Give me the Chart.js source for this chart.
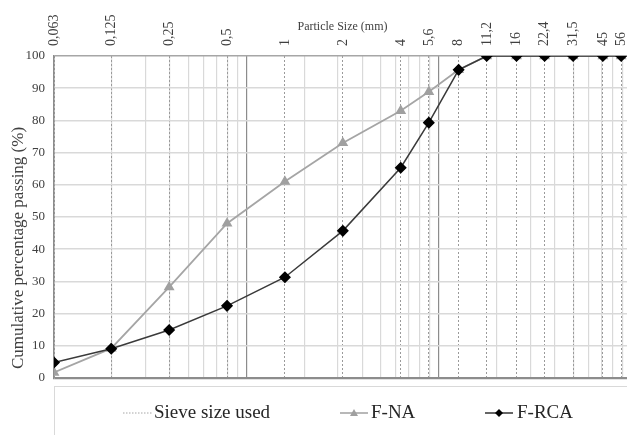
<!DOCTYPE html>
<html>
<head>
<meta charset="utf-8">
<script src="https://cdn.jsdelivr.net/npm/chart.js@4/dist/chart.umd.min.js"></script>
<style>
  html, body { margin: 0; padding: 0; background: #fff; overflow: hidden; }
  #wrap { width: 645px; height: 435px; }
</style>
</head>
<body>
<div id="wrap"><canvas id="gradingChart" width="645" height="435"></canvas></div>
<script>
// sieve sizes (mm) and their labels on the top axis
const sieveSizes = [0.063, 0.125, 0.25, 0.5, 1, 2, 4, 5.6, 8, 11.2, 16, 22.4, 31.5, 45, 56];
const sieveLabels = ['0,063', '0,125', '0,25', '0,5', '1', '2', '4', '5,6', '8', '11,2', '16', '22,4', '31,5', '45', '56'];

// cumulative percentage passing
const fNA = [1.7, 9.2, 28.2, 48.0, 61.0, 73.0, 83.0, 88.9, 95.7, 100, 100, 100, 100, 100, 100];
const fRCA = [4.8, 9.1, 14.9, 22.4, 31.3, 45.7, 65.3, 79.3, 95.7, 100, 100, 100, 100, 100, 100];

const yTicks = [0, 10, 20, 30, 40, 50, 60, 70, 80, 90, 100];

const xMin = 0.063;
const xMax = 63;

// log grid like excel: major every decade from the axis minimum, minor at 2..9
const gridValues = [];
for (let d = xMin; d < xMax * 0.99; d *= 10) {
  for (let k = 1; k <= 9; k++) gridValues.push(+(d * k).toPrecision(6));
}
gridValues.push(xMax);

const serif = "'Liberation Serif', 'Times New Roman', serif";

// y title sits a bit low in the original, and the legend is a boxed strip
const extrasPlugin = {
  id: 'extras',
  afterDraw(chart) {
    const ctx = chart.ctx;
    ctx.save();
    ctx.translate(19, 248);
    ctx.rotate(-Math.PI / 2);
    ctx.font = '17px ' + serif;
    ctx.fillStyle = '#404040';
    ctx.textAlign = 'center';
    ctx.textBaseline = 'middle';
    ctx.fillText('Cumulative percentage passing (%)', 0, 0);
    ctx.restore();

    ctx.save();
    ctx.strokeStyle = '#d9d9d9';
    ctx.lineWidth = 1;
    ctx.strokeRect(54.5, 386.5, 700, 100);

    const y = 413;
    ctx.font = '19px ' + serif;
    ctx.fillStyle = '#262626';
    ctx.textBaseline = 'middle';

    // sieve size used
    ctx.strokeStyle = '#a6a6a6';
    ctx.setLineDash([1.5, 1.5]);
    ctx.beginPath(); ctx.moveTo(123, y); ctx.lineTo(152, y); ctx.stroke();
    ctx.setLineDash([]);
    ctx.fillText('Sieve size used', 154, y);

    // F-NA
    ctx.strokeStyle = '#a0a0a0';
    ctx.lineWidth = 1.5;
    ctx.beginPath(); ctx.moveTo(340, y); ctx.lineTo(368, y); ctx.stroke();
    ctx.fillStyle = '#a0a0a0';
    ctx.beginPath(); ctx.moveTo(354, y - 4); ctx.lineTo(358, y + 3); ctx.lineTo(350, y + 3); ctx.closePath(); ctx.fill();
    ctx.fillStyle = '#262626';
    ctx.fillText('F-NA', 371, y);

    // F-RCA
    ctx.strokeStyle = '#333';
    ctx.beginPath(); ctx.moveTo(485, y); ctx.lineTo(513, y); ctx.stroke();
    ctx.fillStyle = '#000';
    ctx.beginPath(); ctx.moveTo(499, y - 4); ctx.lineTo(503, y); ctx.lineTo(499, y + 4); ctx.lineTo(495, y); ctx.closePath(); ctx.fill();
    ctx.fillStyle = '#262626';
    ctx.fillText('F-RCA', 517, y);
    ctx.restore();
  }
};

const toPoints = vals => sieveSizes.map((s, i) => ({ x: s, y: vals[i] }));

new Chart(document.getElementById('gradingChart'), {
  type: 'line',
  data: {
    datasets: [
      {
        label: 'F-NA',
        data: toPoints(fNA),
        borderColor: '#a5a5a5',
        borderWidth: 1.8,
        pointStyle: 'triangle',
        pointRadius: 4.5,
        pointBackgroundColor: '#a0a0a0',
        pointBorderColor: '#a0a0a0',
        tension: 0,
        order: 1
      },
      {
        label: 'F-RCA',
        data: toPoints(fRCA),
        borderColor: '#3a3a3a',
        borderWidth: 1.5,
        pointStyle: 'rectRot',
        pointRadius: 5,
        pointBackgroundColor: '#000',
        pointBorderColor: '#000',
        tension: 0,
        order: 0
      }
    ]
  },
  options: {
    responsive: false,
    animation: false,
    devicePixelRatio: 1,
    layout: { padding: { left: 0, right: 14, top: 0, bottom: 57 } },
    plugins: { legend: { display: false }, tooltip: { enabled: false } },
    scales: {
      x: {
        type: 'logarithmic',
        position: 'bottom',
        min: xMin,
        max: xMax,
        afterBuildTicks: s => { s.ticks = gridValues.map(v => ({ value: v })); },
        ticks: { display: false },
        grid: {
          drawTicks: false,
          color: c => {
            const v = c.tick ? c.tick.value : 0;
            const r = v / xMin;
            const isMajor = [1, 10, 100, 1000].some(m => Math.abs(r - m) < 1e-6 * m);
            return isMajor ? '#8c8c8c' : '#d9d9d9';
          },
          lineWidth: 1.2
        },
        border: { display: false }
      },
      x2: {
        type: 'logarithmic',
        position: 'top',
        min: xMin,
        max: xMax,
        afterBuildTicks: s => { s.ticks = sieveSizes.map(v => ({ value: v })); },
        afterFit: s => { s.height = 56; },
        ticks: {
          autoSkip: false,
          maxRotation: 90,
          minRotation: 90,
          padding: 10,
          labelOffset: 17,
          color: '#404040',
          font: { family: serif, size: 14 },
          callback: (v, i) => sieveLabels[i]
        },
        title: {
          display: true,
          text: 'Particle Size (mm)',
          color: '#404040',
          font: { family: serif, size: 12 },
          padding: { top: 20, bottom: 0 }
        },
        grid: {
          drawTicks: false,
          color: '#9a9a9a',
          lineWidth: 1
        },
        border: { display: false, dash: [2, 2] }
      },
      y: {
        min: 0,
        max: 100,
        afterBuildTicks: s => { s.ticks = yTicks.map(v => ({ value: v })); },
        afterFit: s => { s.width = 54; },
        ticks: {
          padding: 9,
          color: '#404040',
          font: { family: serif, size: 13 }
        },
        grid: {
          drawTicks: false,
          color: c => {
            const v = c.tick ? c.tick.value : 0;
            if (v === 0) return '#8c8c8c';
            if (v === 100) return '#a6a6a6';
            return '#d9d9d9';
          },
          lineWidth: c => {
            const v = c.tick ? c.tick.value : 0;
            return v === 0 ? 2.2 : 1.5;
          }
        },
        border: { display: true, color: '#8c8c8c', width: 1.5 }
      }
    }
  },
  plugins: [extrasPlugin]
});
</script>
</body>
</html>
